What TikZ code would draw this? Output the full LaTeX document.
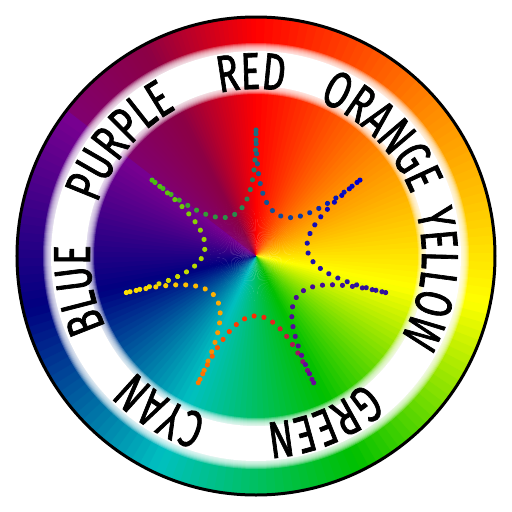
\documentclass[tikz,border=0pt]{standalone}
\usepackage{fontspec}
\usetikzlibrary{decorations.text,decorations.markings}
\newfontfamily\lblf{Fira Sans}[FakeStretch=0.7,FakeBold=1.3]
\def\lblstyle{\lblf\fontsize{52}{52}\selectfont}
% wheel gradient stops
\definecolor{g0}{HTML}{800070}
\definecolor{g1}{HTML}{8C0045}
\definecolor{g2}{HTML}{FF0000}
\definecolor{g3}{HTML}{FF8C00}
\definecolor{g4}{HTML}{FFFF00}
\definecolor{g5}{HTML}{00C000}
\definecolor{g6}{HTML}{00C0C0}
\definecolor{g7}{HTML}{000080}
\definecolor{g8}{HTML}{7A0090}
% star dot colours
\definecolor{sTeal}{HTML}{1E6E7E}
\definecolor{sSea}{HTML}{2A8A4A}
\definecolor{sGrn}{HTML}{4CC010}
\definecolor{sYg}{HTML}{A8D800}
\definecolor{sYel}{HTML}{FFE000}
\definecolor{sAmb}{HTML}{FFB000}
\definecolor{sOrg}{HTML}{FF7800}
\definecolor{sRed}{HTML}{FF2800}
\definecolor{sPur}{HTML}{660A99}
\definecolor{sVio}{HTML}{4A0A99}
\definecolor{sInd}{HTML}{30109A}
\definecolor{sNav}{HTML}{1A10B0}
\definecolor{sBlu}{HTML}{0000CC}
\definecolor{sStl}{HTML}{104C9A}
\tikzset{
  lbl/.style={decorate, decoration={text along path, text align=center, text={|\lblstyle|#1}}},
  stardots/.style n args={3}{decorate, decoration={markings,
    mark=between positions 0 and 1 step 10pt with {
      \pgfmathsetmacro\pp{min(200*(\pgfkeysvalueof{/pgf/decoration/mark info/distance from start}/\pgfdecoratedpathlength),200)}
      \ifdim\pp pt<100pt
        \colorlet{dc}{#2!\pp!#1}
      \else
        \pgfmathsetmacro\qq{min(\pp-100,100)}
        \colorlet{dc}{#3!\qq!#2}
      \fi
      \fill[dc] (0,0) circle (2.6);
    }}},
  feather/.style={white, opacity=0.22, even odd rule}
}
\begin{document}
\begin{tikzpicture}[x=1pt,y=1pt]
\fill[white] (-256,-256) rectangle (256,256);
\useasboundingbox (-256,-256) rectangle (256,256);
% conic gradient wheel
\foreach \a/\b/\ca/\cb in {143/118/g0/g1, 118/90/g1/g2, 90/39/g2/g3, 39/-12/g3/g4, -12/-64/g4/g5, -64/-115/g5/g6, -115/-167/g6/g7, -167/-217/g7/g8} {
  \foreach \k in {0,...,23} {
    \pgfmathsetmacro\tA{\a+(\b-\a)*\k/24}
    \pgfmathsetmacro\tB{\a+(\b-\a)*(\k+1)/24-0.6}
    \pgfmathsetmacro\pc{100*(\k+0.5)/24}
    \colorlet{wc}{\cb!\pc!\ca}
    \fill[wc] (0,0) -- (\tA:238) arc[start angle=\tA, end angle=\tB, radius=238] -- cycle;
  }
}
% white band with soft edges
\fill[white, even odd rule] (0,0) circle (205) (0,0) circle (170);
\foreach \i in {1,...,8} {
  \fill[feather] (0,0) circle (205+\i) (0,0) circle (170-\i);
}
% outline
\draw[line width=3] (0,0) circle (239);
% labels
\path[lbl=RED]    (136.5:167)  arc[start angle=136.5,  end angle=46.5,   radius=167];
\path[lbl=ORANGE] (89.8:167)   arc[start angle=89.8,   end angle=-0.2,   radius=167];
\path[lbl=YELLOW] (37.8:166)   arc[start angle=37.8,   end angle=-52.2,  radius=166];
\path[lbl=GREEN]  (-22.8:167)  arc[start angle=-22.8,  end angle=-112.8, radius=167];
\path[lbl=CYAN]   (-76.7:167)  arc[start angle=-76.7,  end angle=-166.7, radius=167];
\path[lbl=BLUE]   (-124.2:166) arc[start angle=-124.2, end angle=-214.2, radius=166];
\path[lbl=PURPLE] (185:167)    arc[start angle=185,    end angle=95,     radius=167];
% dotted star
\begin{scope}[shift={(0,-7)}]
\foreach \i/\ca/\cm/\cb in {0/sTeal/sSea/sGrn, 1/sGrn/sYg/sYel, 2/sYel/sAmb/sOrg, 3/sOrg/sRed/sPur, 4/sPur/sVio/sInd, 5/sInd/sNav/sBlu, 6/sBlu/sStl/sTeal} {
  \pgfmathsetmacro\a{90+51.42857*\i}
  \pgfmathsetmacro\b{90+51.42857*(\i+1)}
  \coordinate (p\i) at (\a:133);
  \coordinate (q\i) at (\b:133);
  \coordinate (u\i) at (\a:34);
  \coordinate (v\i) at (\b:34);
  \path[stardots={\ca}{\cm}{\cb}] (p\i) .. controls (u\i) and (v\i) .. (q\i);
}
\end{scope}
\end{tikzpicture}
\end{document}
